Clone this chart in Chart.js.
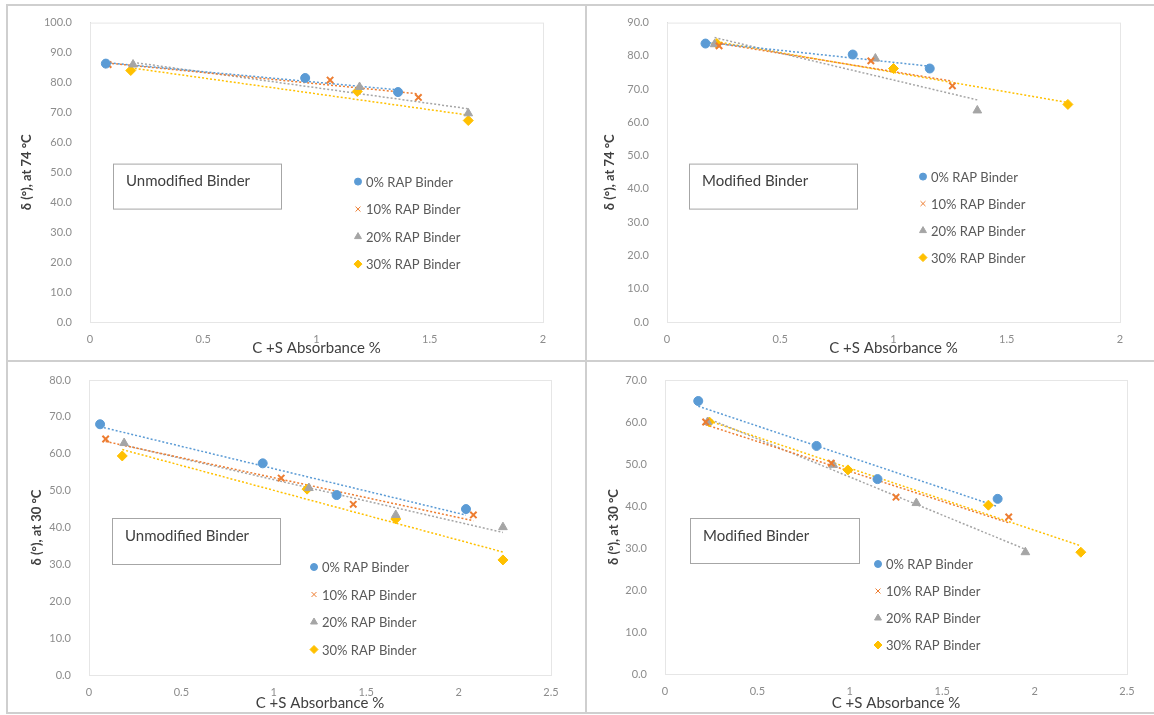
<!DOCTYPE html>
<html>
<head>
<meta charset="utf-8">
<script src="https://cdn.jsdelivr.net/npm/chart.js@4.4.0/dist/chart.umd.min.js"></script>
<style>
  html, body { margin: 0; padding: 0; background: #fff; }
  #wrap { position: relative; width: 1154px; height: 715px; overflow: hidden; }
  .panel { position: absolute; }
  .panel canvas { display: block; }
  .rule { position: absolute; background: #cfcfcf; }
</style>
</head>
<body>
<div id="wrap">
  <div class="panel" style="left:8px;top:6px"><canvas id="c1" width="577" height="354"></canvas></div>
  <div class="panel" style="left:588px;top:6px"><canvas id="c2" width="566" height="354"></canvas></div>
  <div class="panel" style="left:8px;top:363px"><canvas id="c3" width="577" height="349"></canvas></div>
  <div class="panel" style="left:588px;top:363px"><canvas id="c4" width="566" height="349"></canvas></div>
  <div class="rule" style="left:6px;top:4px;width:2px;height:710px"></div>
  <div class="rule" style="left:6px;top:4px;width:1148px;height:2px"></div>
  <div class="rule" style="left:585px;top:4px;width:2px;height:710px"></div>
  <div class="rule" style="left:6px;top:360px;width:1148px;height:2px"></div>
  <div class="rule" style="left:6px;top:712px;width:1148px;height:2px"></div>
</div>
<script>
// series names (same four in every panel)
const seriesLabels = ['0% RAP Binder', '10% RAP Binder', '20% RAP Binder', '30% RAP Binder'];

// Unmodified binder, 74 °C
const um74_x0 = [0.07, 0.95, 1.36];  const um74_y0 = [86.3, 81.5, 76.8];
const um74_x10 = [0.08, 1.06, 1.45]; const um74_y10 = [86.0, 80.8, 75.0];
const um74_x20 = [0.19, 1.19, 1.67]; const um74_y20 = [86.0, 78.5, 69.7];
const um74_x30 = [0.18, 1.18, 1.67]; const um74_y30 = [84.0, 77.0, 67.3];

// Modified binder, 74 °C
const m74_x0 = [0.17, 0.82, 1.16];  const m74_y0 = [83.7, 80.4, 76.2];
const m74_x10 = [0.23, 0.90, 1.26]; const m74_y10 = [83.0, 78.5, 71.0];
const m74_x20 = [0.21, 0.92, 1.37]; const m74_y20 = [83.5, 79.2, 63.6];
const m74_x30 = [0.22, 1.00, 1.77]; const m74_y30 = [83.7, 76.2, 65.4];

// Unmodified binder, 30 °C
const um30_x0 = [0.06, 0.94, 1.34, 2.04];  const um30_y0 = [68.0, 57.4, 48.8, 45.0];
const um30_x10 = [0.09, 1.04, 1.43, 2.08]; const um30_y10 = [64.0, 53.4, 46.3, 43.4];
const um30_x20 = [0.19, 1.19, 1.66, 2.24]; const um30_y20 = [62.9, 50.7, 43.4, 40.1];
const um30_x30 = [0.18, 1.18, 1.66, 2.24]; const um30_y30 = [59.4, 50.4, 42.3, 31.2];

// Modified binder, 30 °C
const m30_x0 = [0.18, 0.82, 1.15, 1.80];  const m30_y0 = [65.0, 54.3, 46.4, 41.7];
const m30_x10 = [0.22, 0.90, 1.25, 1.86]; const m30_y10 = [60.0, 50.2, 42.1, 37.4];
const m30_x20 = [0.23, 0.91, 1.36, 1.95]; const m30_y20 = [60.0, 49.8, 40.7, 29.0];
const m30_x30 = [0.24, 0.99, 1.75, 2.25]; const m30_y30 = [60.0, 48.6, 40.2, 29.0];

// tick labels
const yTicks74 = ['0.0', '10.0', '20.0', '30.0', '40.0', '50.0', '60.0', '70.0', '80.0', '90.0', '100.0'];
const yTicksM74 = ['0.0', '10.0', '20.0', '30.0', '40.0', '50.0', '60.0', '70.0', '80.0', '90.0'];
const yTicks30 = ['0.0', '10.0', '20.0', '30.0', '40.0', '50.0', '60.0', '70.0', '80.0'];
const yTicksM30 = ['0.0', '10.0', '20.0', '30.0', '40.0', '50.0', '60.0', '70.0'];
const xTicksTop = ['0', '0.5', '1', '1.5', '2'];
const xTicksBottom = ['0', '0.5', '1', '1.5', '2', '2.5'];

const colors = ['#5B9BD5', '#ED7D31', '#A5A5A5', '#FFC000'];
const markers = [
  { pointStyle: 'circle', radius: 4.5, borderWidth: 1 },
  { pointStyle: 'crossRot', radius: 4.5, borderWidth: 2 },
  { pointStyle: 'triangle', radius: 5, borderWidth: 1 },
  { pointStyle: 'rectRot', radius: 5, borderWidth: 1 }
];
const FONT = 'Lato, "Open Sans", sans-serif';

// Excel-style linear trendline over the data range of one series
function trendline(xs, ys) {
  const n = xs.length;
  const mx = xs.reduce((a, b) => a + b, 0) / n;
  const my = ys.reduce((a, b) => a + b, 0) / n;
  let sxy = 0, sxx = 0;
  for (let i = 0; i < n; i++) {
    sxy += (xs[i] - mx) * (ys[i] - my);
    sxx += (xs[i] - mx) * (xs[i] - mx);
  }
  const slope = sxy / sxx;
  const x0 = Math.min(...xs), x1 = Math.max(...xs);
  return [{ x: x0, y: my + slope * (x0 - mx) }, { x: x1, y: my + slope * (x1 - mx) }];
}

function buildDatasets(xsList, ysList) {
  const points = [], trends = [];
  xsList.forEach((xs, i) => {
    const ys = ysList[i];
    points.push({
      label: seriesLabels[i],
      data: xs.map((x, j) => ({ x: x, y: ys[j] })),
      backgroundColor: colors[i],
      borderColor: colors[i],
      pointStyle: markers[i].pointStyle,
      pointRadius: markers[i].radius,
      pointBorderWidth: markers[i].borderWidth,
      showLine: false,
      order: 1
    });
    trends.push({
      label: seriesLabels[i] + ' trend',
      data: trendline(xs, ys),
      borderColor: colors[i],
      borderWidth: 1.5,
      borderDash: [2, 2],
      pointRadius: 0,
      showLine: true,
      order: 2
    });
  });
  return trends.concat(points);
}

// frame around the plot, the label box and the in-plot legend
const panelDecor = {
  id: 'panelDecor',
  beforeDatasetsDraw(chart, args, opts) {
    const a = chart.chartArea;
    const ctx = chart.ctx;
    ctx.save();
    ctx.strokeStyle = '#e6e6e6';
    ctx.lineWidth = 1;
    ctx.strokeRect(a.left + 0.5, a.top + 0.5, a.right - a.left, a.bottom - a.top);

    const b = opts.box;
    ctx.strokeStyle = '#a6a6a6';
    ctx.strokeRect(a.left + b.x + 0.5, a.top + b.y + 0.5, b.w, b.h);
    ctx.fillStyle = '#404040';
    ctx.font = '15px ' + FONT;
    ctx.textBaseline = 'middle';
    ctx.textAlign = 'left';
    ctx.fillText(b.text, a.left + b.x + 13, a.top + b.y + 18);

    const l = opts.legend;
    ctx.font = '13px ' + FONT;
    seriesLabels.forEach((name, i) => {
      const mx = a.left + l.x;
      const my = a.top + l.y + i * l.gap;
      ctx.fillStyle = colors[i];
      ctx.strokeStyle = colors[i];
      Chart.helpers.drawPoint(ctx, {
        pointStyle: markers[i].pointStyle,
        radius: markers[i].radius - 1,
        borderWidth: markers[i].borderWidth,
        rotation: 0
      }, mx, my);
      ctx.fillStyle = '#595959';
      ctx.fillText(name, mx + 8, my + 1);
    });
    ctx.restore();
  }
};

function makePanel(id, cfg) {
  const ctx = document.getElementById(id).getContext('2d');
  return new Chart(ctx, {
    type: 'scatter',
    data: { datasets: buildDatasets(cfg.xs, cfg.ys) },
    options: {
      responsive: false,
      animation: false,
      devicePixelRatio: 1,
      layout: { padding: { left: 0, top: cfg.top, right: cfg.right, bottom: 0 } },
      plugins: {
        legend: { display: false },
        tooltip: { enabled: false },
        panelDecor: { box: cfg.box, legend: cfg.legend }
      },
      scales: {
        x: {
          type: 'linear',
          min: 0,
          max: cfg.xMax,
          afterFit: (s) => { s.height = cfg.xHeight; },
          grid: { display: false },
          border: { color: '#d9d9d9' },
          ticks: {
            stepSize: 0.5,
            padding: 3,
            color: '#8c8c8c',
            font: { family: FONT, size: 11 },
            callback: (v, i) => cfg.xTicks[i]
          },
          title: {
            display: true,
            text: 'C +S Absorbance %',
            color: '#404040',
            font: { family: FONT, size: 15 },
            padding: { top: 0, bottom: cfg.xTitlePad }
          }
        },
        y: {
          min: 0,
          max: cfg.yMax,
          afterFit: (s) => { s.width = cfg.yWidth; },
          grid: { display: false },
          border: { color: '#d9d9d9' },
          ticks: {
            stepSize: 10,
            padding: 10,
            color: '#8c8c8c',
            font: { family: FONT, size: 11 },
            callback: (v, i) => cfg.yTicks[i]
          },
          title: {
            display: true,
            text: cfg.yTitle,
            color: '#404040',
            font: { family: FONT, size: 13, weight: 'bold' },
            padding: { top: cfg.yTitlePad, bottom: 0 }
          }
        }
      }
    },
    plugins: [panelDecor]
  });
}

makePanel('c1', {
  xs: [um74_x0, um74_x10, um74_x20, um74_x30],
  ys: [um74_y0, um74_y10, um74_y20, um74_y30],
  xMax: 2, yMax: 100, xTicks: xTicksTop, yTicks: yTicks74,
  yTitle: 'δ (°), at 74 °C',
  top: 16, right: 42, yWidth: 82, xHeight: 38, yTitlePad: 11, xTitlePad: 3,
  box: { x: 23, y: 141, w: 168, h: 45, text: 'Unmodified Binder' },
  legend: { x: 268, y: 159, gap: 27.5 }
});

makePanel('c2', {
  xs: [m74_x0, m74_x10, m74_x20, m74_x30],
  ys: [m74_y0, m74_y10, m74_y20, m74_y30],
  xMax: 2, yMax: 90, xTicks: xTicksTop, yTicks: yTicksM74,
  yTitle: 'δ (°), at 74 °C',
  top: 16, right: 34, yWidth: 79, xHeight: 38, yTitlePad: 14, xTitlePad: 3,
  box: { x: 22, y: 141, w: 168, h: 45, text: 'Modified Binder' },
  legend: { x: 256, y: 154, gap: 27 }
});

makePanel('c3', {
  xs: [um30_x0, um30_x10, um30_x20, um30_x30],
  ys: [um30_y0, um30_y10, um30_y20, um30_y30],
  xMax: 2.5, yMax: 80, xTicks: xTicksBottom, yTicks: yTicks30,
  yTitle: 'δ (°), at 30 °C',
  top: 17, right: 34, yWidth: 81, xHeight: 37, yTitlePad: 21, xTitlePad: 0,
  box: { x: 23, y: 138, w: 168, h: 46, text: 'Unmodified Binder' },
  legend: { x: 225, y: 187, gap: 27.5 }
});

makePanel('c4', {
  xs: [m30_x0, m30_x10, m30_x20, m30_x30],
  ys: [m30_y0, m30_y10, m30_y20, m30_y30],
  xMax: 2.5, yMax: 70, xTicks: xTicksBottom, yTicks: yTicksM30,
  yTitle: 'δ (°), at 30 °C',
  top: 17, right: 27, yWidth: 77, xHeight: 38, yTitlePad: 18, xTitlePad: 0,
  box: { x: 25, y: 138, w: 169, h: 45, text: 'Modified Binder' },
  legend: { x: 213, y: 184, gap: 27 }
});
</script>
</body>
</html>
